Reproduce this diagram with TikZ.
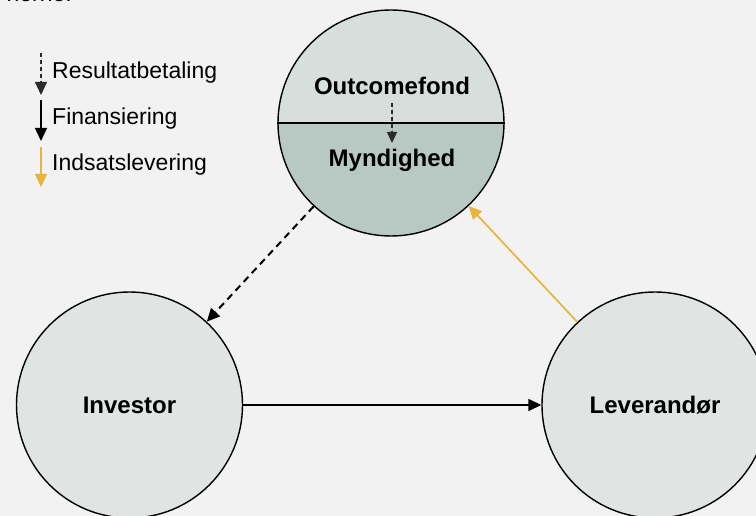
\documentclass[tikz,border=0pt]{standalone}
\usepackage{fontspec}
\setmainfont{Liberation Sans}
\usetikzlibrary{arrows.meta}
\definecolor{bg}{HTML}{F2F2F2}
\definecolor{topc}{HTML}{D6DFDC}
\definecolor{lowc}{HTML}{B8C9C4}
\definecolor{sidec}{HTML}{E0E4E3}
\definecolor{gold}{HTML}{E8B53A}
\definecolor{dgray}{HTML}{2B2B2B}
\tikzset{
  actor/.style={circle, draw=black, line width=1.4pt, minimum size=226pt, inner sep=0pt, fill=sidec},
  lbl/.style={font=\fontsize{24}{28}\selectfont\bfseries, inner sep=0pt},
  legtxt/.style={font=\fontsize{23}{26}\selectfont, anchor=west, inner sep=0pt},
  tipA/.style={-{Triangle[length=13pt,width=12pt]}},
  payflow/.style={tipA, draw=black, line width=2pt, dash pattern=on 7pt off 5pt},
  finflow/.style={tipA, draw=black, line width=1.5pt},
  delflow/.style={tipA, draw=gold, line width=1.7pt},
}
\begin{document}
\begin{tikzpicture}[x=1pt,y=-1pt]
\fill[bg] (0,0) rectangle (756,516);
\useasboundingbox (0,0) rectangle (756,516);
% cut-off heading text
\node[font=\fontsize{23}{26}\selectfont, anchor=base east, inner sep=0pt] (head) at (72,2) {herne.};
% top circle
\begin{scope}
  \clip (391,123) circle (113);
  \fill[topc] (270,0) rectangle (510,123);
  \fill[lowc] (270,123) rectangle (510,240);
\end{scope}
\node[circle, draw=black, line width=1.4pt, minimum size=226pt, inner sep=0pt] (top) at (391,123) {};
\draw[line width=1.4pt] (top.west) -- (top.east);
\node[lbl] (outc) at (392,86) {Outcomefond};
\node[lbl] (mynd) at (392,160) {Myndighed};
\coordinate (sa) at (392,103);
\coordinate (sb) at (392,143);
\draw[-{Triangle[length=11pt,width=10pt]}, draw=dgray, fill=dgray, line width=1.2pt, dash pattern=on 4pt off 3pt] (sa) -- (sb);
% side circles
\node[actor] (inv) at (129.5,405) {};
\node[lbl] (invt) at (inv.center) {Investor};
\node[actor] (lev) at (655,405) {};
\node[lbl] (levt) at (lev.center) {Leverandør};
% connectors
\draw[payflow] (top) -- (inv);
\draw[finflow] (inv) -- (lev);
\draw[delflow, fill=gold] (lev) -- (top);
% legend
\coordinate (l1a) at (41,53);  \coordinate (l1b) at (41,95);
\coordinate (l2a) at (41,100); \coordinate (l2b) at (41,141);
\coordinate (l3a) at (41,147); \coordinate (l3b) at (41,187);
\draw[-{Triangle[length=13pt,width=12pt]}, draw=dgray, fill=dgray, line width=1.1pt, dash pattern=on 4pt off 3pt] (l1a) -- (l1b);
\draw[-{Triangle[length=13pt,width=12pt]}, draw=black, line width=1.3pt] (l2a) -- (l2b);
\draw[-{Triangle[length=13pt,width=12pt]}, draw=gold, fill=gold, line width=1.1pt] (l3a) -- (l3b);
\node[legtxt] (t1) at (52,73) {Resultatbetaling};
\node[legtxt] (t2) at (52,119) {Finansiering};
\node[legtxt] (t3) at (52,165) {Indsatslevering};
\end{tikzpicture}
\end{document}
